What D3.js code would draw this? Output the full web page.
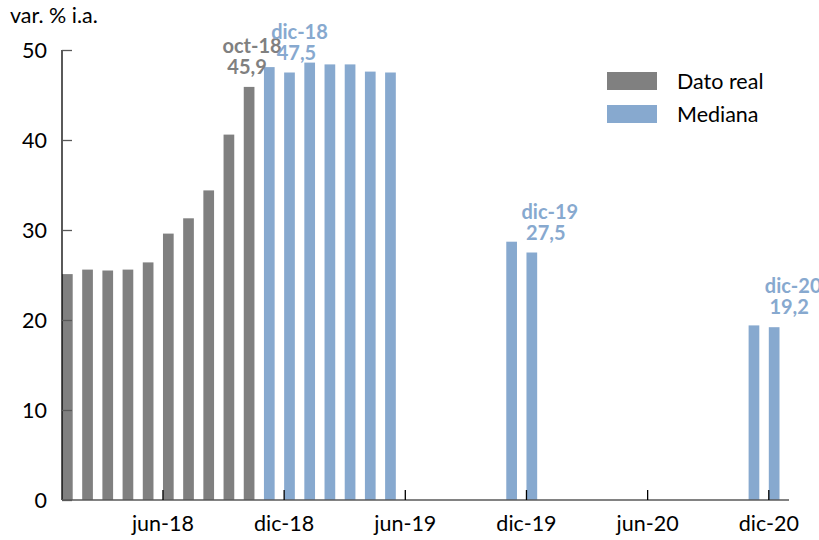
<!DOCTYPE html>
<meta charset="utf-8">
<head>
<style>
body { margin: 0; background: #fff; }
text { font-family: Lato, "Open Sans", sans-serif; }
</style>
<script src="https://cdnjs.cloudflare.com/ajax/libs/d3/7.8.5/d3.min.js"></script>
</head>
<body>
<div id="chart"></div>
<script>
// months on the axis, ene-18 .. dic-20
var monthNames = ['ene','feb','mar','abr','may','jun','jul','ago','sep','oct','nov','dic']
var years = ['18','19','20']
var months = []
years.forEach(function(y){ monthNames.forEach(function(m){ months.push(m + '-' + y) }) })

var realMonths = ['ene-18','feb-18','mar-18','abr-18','may-18','jun-18','jul-18','ago-18','sep-18','oct-18']
var realValues = [25.1, 25.6, 25.5, 25.6, 26.4, 29.6, 31.3, 34.4, 40.6, 45.9]

var medMonths = ['nov-18','dic-18','ene-19','feb-19','mar-19','abr-19','may-19','nov-19','dic-19','nov-20','dic-20']
var medValues = [48.1, 47.5, 48.6, 48.4, 48.4, 47.6, 47.5, 28.7, 27.5, 19.4, 19.2]

var tickMonths = ['jun-18','dic-18','jun-19','dic-19','jun-20','dic-20']
var yTicks = [0, 10, 20, 30, 40, 50]

var labelMonths = ['oct-18','dic-18','dic-19','dic-20']
var labelValues = ['45,9','47,5','27,5','19,2']
var labelSeries = ['real','med','med','med']

var colors = {real: '#808080', med: '#87a9cf'}
// horizontal nudges of the annotations (px), name line and value line
var labelShift = {'oct-18': [3, -2], 'dic-18': [10, 7], 'dic-19': [18, 14], 'dic-20': [19, 15]}

var width = 819, height = 540
var fs = 21.5
var svg = d3.select('#chart').append('svg')
	.attr('width', width)
	.attr('height', height)

var x = d3.scaleBand().domain(months).range([62, 789]).padding(0)
var y = d3.scaleLinear().domain([0, 50]).range([500, 50])
var barW = x.bandwidth() * 0.53

// bars
var real = realMonths.map(function(m, i){ return {m: m, v: realValues[i]} })
var med = medMonths.map(function(m, i){ return {m: m, v: medValues[i]} })

svg.append('g').selectAll('rect')
	.data(real)
	.enter().append('rect')
	.attr('x', function(d){ return x(d.m) })
	.attr('y', function(d){ return y(d.v) })
	.attr('width', barW)
	.attr('height', function(d){ return y(0) - y(d.v) })
	.attr('fill', colors.real)

svg.append('g').selectAll('rect')
	.data(med)
	.enter().append('rect')
	.attr('x', function(d){ return x(d.m) })
	.attr('y', function(d){ return y(d.v) })
	.attr('width', barW)
	.attr('height', function(d){ return y(0) - y(d.v) })
	.attr('fill', colors.med)

// y axis
var yAxis = svg.append('g')
	.attr('transform', 'translate(62,0)')
	.call(d3.axisRight(y).tickValues(yTicks).tickSize(10).tickFormat(''))
yAxis.select('.domain').attr('stroke', '#000').attr('stroke-width', 1.3).attr('d', 'M0,50V500')
yAxis.selectAll('.tick line').attr('stroke', '#595959').attr('stroke-width', 1.3)

svg.append('g').selectAll('text')
	.data(yTicks)
	.enter().append('text')
	.attr('x', 47)
	.attr('y', function(d){ return y(d) })
	.attr('dy', '0.36em')
	.attr('text-anchor', 'end')
	.attr('font-size', fs)
	.attr('fill', '#000')
	.text(function(d){ return d })

// x axis
var xAxis = svg.append('g')
	.attr('transform', 'translate(0,500)')
	.call(d3.axisTop(x).tickValues(tickMonths).tickSize(10).tickFormat(''))
xAxis.selectAll('.tick').attr('transform', function(d){ return 'translate(' + x(d) + ',0)' })
xAxis.select('.domain').attr('stroke', '#595959').attr('stroke-width', 1.3).attr('d', 'M62,0H789')
xAxis.selectAll('.tick line').attr('stroke', '#000').attr('stroke-width', 1.3)

svg.append('g').selectAll('text')
	.data(tickMonths)
	.enter().append('text')
	.attr('x', function(d){ return x(d) })
	.attr('y', 531)
	.attr('text-anchor', 'middle')
	.attr('font-size', fs)
	.attr('fill', '#000')
	.text(function(d){ return d })

// unit title
svg.append('text')
	.attr('x', 10)
	.attr('y', 23)
	.attr('font-size', fs)
	.attr('fill', '#000')
	.text('var. % i.a.')

// annotations
labelMonths.forEach(function(m, i){
	var v = labelSeries[i] == 'real' ? realValues[realMonths.indexOf(m)] : medValues[medMonths.indexOf(m)]
	var cx = x(m) + barW / 2
	var top = y(v)
	var g = svg.append('g')
		.attr('font-size', 20)
		.attr('font-weight', 'bold')
		.attr('fill', colors[labelSeries[i]])
		.attr('text-anchor', 'middle')
	g.append('text')
		.attr('x', cx + labelShift[m][0])
		.attr('y', top - 34)
		.text(m)
	g.append('text')
		.attr('x', cx + labelShift[m][1])
		.attr('y', top - 13)
		.text(labelValues[i])
})

// legend
var legend = [['Dato real', colors.real], ['Mediana', colors.med]]
legend.forEach(function(l, i){
	svg.append('rect')
		.attr('x', 607)
		.attr('y', 72 + i * 33)
		.attr('width', 50)
		.attr('height', 18)
		.attr('fill', l[1])
	svg.append('text')
		.attr('x', 677)
		.attr('y', 89 + i * 33)
		.attr('font-size', fs)
		.attr('fill', '#000')
		.text(l[0])
})
</script>
</body>
